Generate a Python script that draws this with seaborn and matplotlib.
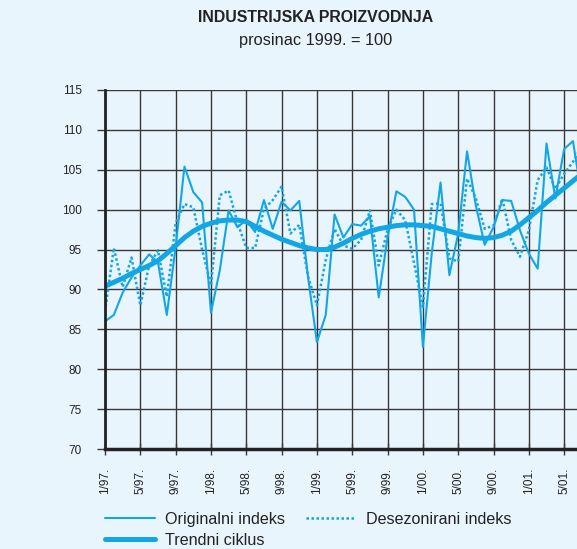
import numpy as np
import pandas as pd
import matplotlib
matplotlib.use('Agg')
import matplotlib.pyplot as plt
import seaborn as sns
from matplotlib.lines import Line2D
from matplotlib.ticker import MultipleLocator

sns.set_style('white')
plt.rcParams['font.family'] = ['Liberation Sans', 'DejaVu Sans']

# monthly index, 1/97. = month 0
months = list(range(55))

originalni = [86.0, 86.8, 89.6, 91.5, 93.0, 94.4, 93.4, 86.8, 95.3, 105.4,
              102.2, 100.9, 87.1, 92.4, 99.9, 97.8, 98.7, 97.2, 101.2, 97.6,
              101.0, 99.9, 101.1, 91.5, 83.4, 86.8, 99.4, 96.5, 98.2, 98.0,
              99.2, 89.0, 96.5, 102.3, 101.6, 100.0, 82.8, 94.5, 103.4, 91.8,
              97.0, 107.3, 100.5, 95.6, 97.8, 101.2, 101.1, 97.4, 94.5, 92.6,
              108.3, 101.4, 107.6, 108.6, 101.5]

desezonirani = [87.2, 95.2, 90.3, 94.0, 88.0, 93.0, 94.9, 89.1, 98.3, 100.7,
                100.3, 95.0, 90.5, 101.8, 102.4, 98.4, 95.2, 95.2, 100.1, 101.2,
                102.9, 97.0, 98.1, 91.6, 88.0, 93.7, 97.6, 95.5, 95.1, 96.2,
                99.9, 93.0, 97.5, 100.0, 98.7, 93.3, 87.8, 100.7, 100.8, 93.9,
                93.5, 103.9, 101.4, 97.6, 98.0, 101.4, 96.2, 94.1, 97.4, 103.7,
                105.3, 102.6, 104.5, 106.0, 108.0]

trendni = [90.4, 90.9, 91.4, 92.0, 92.5, 93.0, 93.6, 94.5, 95.5, 96.5,
           97.3, 97.9, 98.3, 98.6, 98.7, 98.7, 98.5, 97.9, 97.3, 96.8,
           96.3, 95.9, 95.5, 95.2, 95.0, 95.0, 95.3, 95.8, 96.4, 96.9,
           97.3, 97.6, 97.8, 98.0, 98.1, 98.1, 98.0, 97.9, 97.6, 97.3,
           97.0, 96.7, 96.5, 96.4, 96.5, 96.8, 97.3, 98.1, 99.0, 99.9,
           100.9, 101.8, 102.7, 103.6, 104.5]

tick_months = list(range(0, 53, 4))
tick_labels = ['1/97.', '5/97.', '9/97.', '1/98.', '5/98.', '9/98.', '1/99.',
               '5/99.', '9/99.', '1/00.', '5/00.', '9/00.', '1/01.', '5/01.']

df = pd.DataFrame({'mjesec': months, 'Originalni indeks': originalni,
                   'Desezonirani indeks': desezonirani, 'Trendni ciklus': trendni})

BG = '#e9f5fd'
BLUE = '#13a6e4'
GRID = '#383838'

W, H = 577, 549
fig = plt.figure(figsize=(W / 100, H / 100), dpi=100, facecolor=BG)
ax = fig.add_axes([105 / W, (H - 449) / H, (W - 105) / W, (449 - 90) / H])
ax.set_facecolor(BG)

sns.lineplot(data=df, x='mjesec', y='Originalni indeks', ax=ax, color=BLUE, lw=1.5)
sns.lineplot(data=df, x='mjesec', y='Desezonirani indeks', ax=ax, color=BLUE, lw=1.8,
             dashes=False, linestyle=(0, (1, 1)))
sns.lineplot(data=df, x='mjesec', y='Trendni ciklus', ax=ax, color=BLUE, lw=3.6)

ax.set_xlim(0, (W - 105) / 8.83)
ax.set_ylim(70, 115)
ax.yaxis.set_major_locator(MultipleLocator(5))
ax.set_xticks(tick_months)
ax.set_xticklabels(tick_labels, rotation=90, fontsize=8.5, color='#222222')
ax.tick_params(axis='y', labelsize=8.5, labelcolor='#222222', length=5.8, width=1,
               color=GRID, direction='out', pad=10.8, left=True)
ax.tick_params(axis='x', length=8.6, width=1, color=GRID, direction='inout', pad=9.4,
               bottom=True)
ax.set_xlabel('')
ax.set_ylabel('')
ax.grid(True, color=GRID, lw=1)
ax.set_axisbelow(True)
for s in ['top', 'right']:
    ax.spines[s].set_visible(False)
ax.spines['left'].set_color('#222222')
ax.spines['left'].set_linewidth(2)
ax.spines['bottom'].set_color('#222222')
ax.spines['bottom'].set_linewidth(2.5)

fig.text(316 / W, 1 - 17 / H, 'INDUSTRIJSKA PROIZVODNJA', ha='center', va='center',
         fontsize=11.4, fontweight='bold', color='#222222')
fig.text(316 / W, 1 - 40 / H, 'prosinac 1999. = 100', ha='center', va='center',
         fontsize=11.8, color='#222222')

handles = [Line2D([], [], color=BLUE, lw=1.5),
           Line2D([], [], color=BLUE, lw=3.6),
           Line2D([], [], color=BLUE, lw=1.8, linestyle=(0, (1, 1)))]
labels = ['Originalni indeks', 'Trendni ciklus', 'Desezonirani indeks']
fig.legend(handles, labels, ncol=2, loc='upper left', bbox_to_anchor=(105 / W, 1 - 512 / H),
           frameon=False, fontsize=11.6, handlelength=3.1, handletextpad=0.62,
           columnspacing=1.3, labelspacing=0.36, borderpad=0, borderaxespad=0,
           labelcolor='#222222')

fig.savefig('out.png', dpi=100, facecolor=BG)
